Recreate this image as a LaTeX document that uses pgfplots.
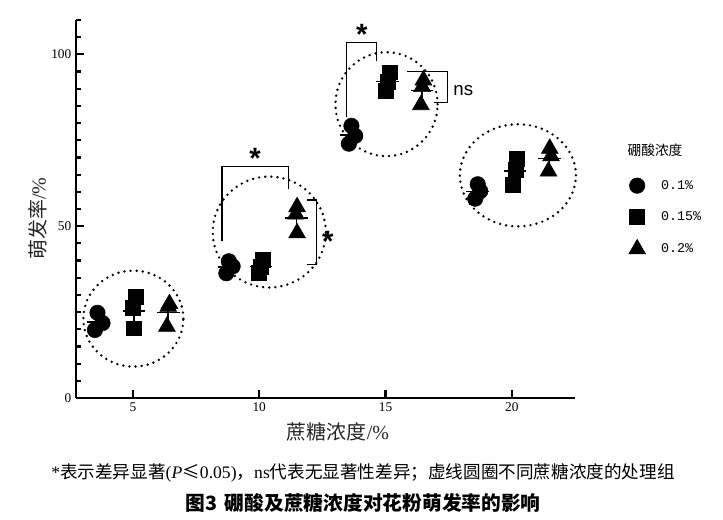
\documentclass[border=0pt]{standalone}
\usepackage{fontspec}
\setmainfont{Liberation Serif}
\newfontfamily\cjk{Noto Sans CJK SC}
\newfontfamily\mono{Liberation Mono}
\newfontfamily\lsans{Liberation Sans}
\usepackage{pgfplots}
\pgfplotsset{compat=1.18}
\pgfplotsset{
 circ/.style={only marks, mark=*, mark size=5.8pt, black, mark options={fill=black, draw=black}},
 sq/.style={only marks, mark=square*, mark size=5.6pt, black, mark options={fill=black, draw=black}},
 tri/.style={only marks, mark=triangle*, mark size=7.3pt, black, mark options={fill=black, draw=black}},
 meanbar/.style={only marks, black, mark=-, mark size=8.5pt, mark options={line width=1.1pt},
   error bars/.cd, y dir=both, y explicit,
   error bar style={line width=1.1pt, black},
   error mark options={mark size=5pt, line width=1.1pt, black}},
}
\tikzset{
 dotc/.style={line width=2pt, line cap=round, dash pattern=on 0pt off 4.6pt},
 brk/.style={line width=0.9pt, black},
}
\begin{document}
\begin{tikzpicture}
\useasboundingbox (-57pt,-90.75pt) rectangle (485.25pt,298.5pt);
\begin{axis}[
 at={(0pt,0pt)}, anchor=south west,
 scale only axis, width=374.25pt, height=283.5pt,
 xmin=2.75, xmax=22.5, ymin=0, ymax=110,
 axis x line=bottom, axis y line=left,
 axis line style={-, line width=2pt},
 tick align=inside,
 xtick={5,10,15,20},
 ytick={0,50,100},
 minor ytick={5,10,...,110},
 major tick length=6pt, minor tick length=3.5pt,
 every tick/.style={black, line width=1.6pt},
 tick label style={font=\fontsize{10}{12}\selectfont},
 /pgf/number format/assume math mode=true,
 xlabel={{\cjk 蔗糖浓度}/\%},
 ylabel={{\cjk 萌发率}/\%},
 label style={font=\fontsize{15}{17}\selectfont, color=black!85},
 xlabel style={at={(axis description cs:0.525,-0.09)}, anchor=center},
 ylabel style={at={(axis description cs:-0.076,0.474)}, anchor=center},
 clip=false,
 legend style={at={(axis description cs:1.092,0.584)}, anchor=north west, draw=none, fill=none,
   row sep=11pt, font=\mono\fontsize{10}{12}\selectfont, inner sep=0pt},
 legend cell align=left,
 legend image code/.code={\path[draw=none] (0pt,0pt) -- (28pt,0pt);
   \path[draw=none, mark repeat=2, mark phase=2] plot coordinates {(0pt,0pt) (12pt,0pt) (28pt,0pt)};},
]
% dotted group circles
\draw[dotc] (axis cs:5.02,23.1) ellipse[x radius=37.5pt, y radius=36pt];
\draw[dotc] (axis cs:10.4,48.3) ellipse[x radius=42.4pt, y radius=41.6pt];
\draw[dotc] (axis cs:15.04,85.5) ellipse[x radius=38.3pt, y radius=39pt];
\draw[dotc] (axis cs:20.24,64.8) ellipse[x radius=43.5pt, y radius=38.3pt];

% replicates
\addplot[circ] coordinates {(3.6,24.8) (3.8,21.8) (3.5,19.8)
  (8.8,39.8) (8.95,38.3) (8.7,36.3)
  (13.65,79.2) (13.8,76.3) (13.55,74.0)
  (18.65,62.2) (18.75,60.2) (18.55,58.0)};
\addlegendentry{0.1\%}
\addplot[sq] coordinates {(5.1,29.5) (5.0,26.2) (5.05,20.3)
  (10.15,40.2) (10.05,38.3) (10.0,36.5)
  (15.15,94.8) (15.1,92.0) (15.0,89.5)
  (20.2,69.5) (20.15,66.5) (20.05,62.0)};
\addlegendentry{0.15\%}
\addplot[tri] coordinates {(6.45,27.4) (6.4,26.6) (6.35,20.8)
  (11.5,55.6) (11.45,53.5) (11.5,48.0)
  (16.5,92.5) (16.45,90.6) (16.4,85.3)
  (21.5,72.6) (21.55,70.4) (21.45,66.0)};
\addlegendentry{0.2\%}

% means +- SEM
\addplot[forget plot, meanbar] coordinates {
  (3.65,22.13) +- (0,1.45)
  (8.8,38.13) +- (0,1.01)
  (13.65,76.5) +- (0,1.50)
  (18.65,60.13) +- (0,1.21)
  (5.05,25.33) +- (0,2.69)
  (10.07,38.33) +- (0,1.07)
  (15.08,92.1) +- (0,1.53)
  (20.13,66.0) +- (0,2.18)
  (6.4,24.93) +- (0,2.08)
  (11.48,52.37) +- (0,2.27)
  (16.45,89.47) +- (0,2.15)
  (21.5,69.67) +- (0,1.94)
};

% significance brackets
\draw[brk] (axis cs:8.53,45.6) -- (axis cs:8.53,67.3) -- (axis cs:11.15,67.3) -- (axis cs:11.15,60.8);
\node[anchor=north, inner sep=0pt, font=\lsans\bfseries\fontsize{22}{22}\selectfont] at (axis cs:9.84,72.7) {*};
\draw[brk] (axis cs:11.9,57.6) -- (axis cs:12.26,57.6) -- (axis cs:12.26,38.9) -- (axis cs:11.9,38.9);
\node[anchor=north, inner sep=0pt, font=\lsans\bfseries\fontsize{22}{22}\selectfont] at (axis cs:12.72,48.5) {*};
\draw[brk] (axis cs:13.45,81.9) -- (axis cs:13.45,103.5) -- (axis cs:14.64,103.5) -- (axis cs:14.64,98);
\node[anchor=north, inner sep=0pt, font=\lsans\bfseries\fontsize{22}{22}\selectfont] at (axis cs:14.06,108.9) {*};
\draw[brk] (axis cs:15.87,95) -- (axis cs:17.46,95) -- (axis cs:17.46,86) -- (axis cs:16.9,86);
\node[anchor=center, inner sep=0pt, font=\lsans\fontsize{14}{14}\selectfont] at (axis cs:18.08,89.6) {ns};
\end{axis}
% legend title
\node[font=\cjk\fontsize{10.3}{12}\selectfont] at (434.25pt,186pt) {硼酸浓度};
% captions
\node[font=\fontsize{13.2}{15}\selectfont] at (215.25pt,-56.25pt)
  {*{\cjk 表示差异显著}(\textit{P}{\cjk ≤}0.05){\cjk ，}ns{\cjk 代表无显著性差异；虚线圆圈不同蔗糖浓度的处理组}};
\node[font=\cjk\bfseries\fontsize{14.8}{16}\selectfont] at (215.25pt,-78.75pt)
  {图3\hspace{0.4em}硼酸及蔗糖浓度对花粉萌发率的影响};
\end{tikzpicture}
\end{document}
